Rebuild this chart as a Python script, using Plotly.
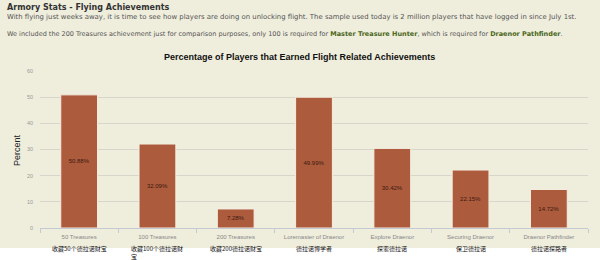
import plotly.graph_objects as go

categories = ["50 Treasures", "100 Treasures", "200 Treasures", "Loremaster of Draenor",
              "Explore Draenor", "Securing Draenor", "Draenor Pathfinder"]
categories_cn = ["收藏50个德拉诺财宝", "收藏100个德拉诺财<br>宝", "收藏200德拉诺财宝", "德拉诺博学者",
                 "探索德拉诺", "保卫德拉诺", "德拉诺探路者"]
percent = [50.88, 32.09, 7.28, 49.99, 30.42, 22.15, 14.72]
y_ticks = [0, 10, 20, 30, 40, 50, 60]

BG = "#EFEDDC"
BAR = "#AD5B3D"
W, H = 600, 260
L, R, T, B = 40, 12, 71, 32
PW, PH = W - L - R, H - T - B

def px_x(p):
    return (p - L) / PW

def px_y(p):
    return (H - B - p) / PH

fig = go.Figure()
fig.add_trace(go.Bar(
    x=categories, y=percent,
    marker=dict(color=BAR, line=dict(color="#F4EEE2", width=1)),
    width=0.47,
    text=[f"{v:.2f}%" for v in percent],
    textposition="inside", insidetextanchor="middle",
    textfont=dict(family="Liberation Sans", size=6, color="#3a1a10"),
    hoverinfo="skip",
))

annotations = []
for c, cn in zip(categories, categories_cn):
    wrapped = "<br>" in cn
    annotations.append(dict(
        x=c, xref="x", y=px_y(241.5) if wrapped else px_y(248.5), yref="paper", text=cn, showarrow=False,
        xanchor="center", yanchor="top" if wrapped else "middle",
        align="left",
        font=dict(family="Noto Sans CJK SC", size=6, color="#111"),
    ))

annotations += [
    dict(x=px_x(5), y=px_y(7), xref="paper", yref="paper", xanchor="left", yanchor="middle",
         text="<b>Armory Stats - Flying Achievements</b>", showarrow=False,
         font=dict(family="DejaVu Sans", size=8, color="#333")),
    dict(x=px_x(5), y=px_y(17), xref="paper", yref="paper", xanchor="left", yanchor="middle",
         text="With flying just weeks away, it is time to see how players are doing on unlocking flight. "
              "The sample used today is 2 million players that have logged in since July 1st.",
         showarrow=False, font=dict(family="DejaVu Sans", size=6.9, color="#555")),
    dict(x=px_x(5), y=px_y(34), xref="paper", yref="paper", xanchor="left", yanchor="middle",
         text="We included the 200 Treasures achievement just for comparison purposes, only 100 is required for "
              "<b><span style='color:#4A6620'>Master Treasure Hunter</span></b>, which is required for "
              "<b><span style='color:#4A6620'>Draenor Pathfinder</span></b>.",
         showarrow=False, font=dict(family="DejaVu Sans", size=6.5, color="#555")),
    dict(x=px_x(299), y=px_y(57), xref="paper", yref="paper", xanchor="center", yanchor="middle",
         text="<b>Percentage of Players that Earned Flight Related Achievements</b>", showarrow=False,
         font=dict(family="Liberation Sans", size=9, color="#111")),
    dict(x=px_x(17), y=px_y(150), xref="paper", yref="paper", xanchor="center", yanchor="middle",
         text="Percent", textangle=-90, showarrow=False,
         font=dict(family="Liberation Sans", size=9, color="#222")),
]

fig.update_layout(
    width=W, height=H,
    margin=dict(l=L, r=R, t=T, b=B, autoexpand=False),
    paper_bgcolor=BG, plot_bgcolor=BG,
    showlegend=False,
    bargap=0.53,
    annotations=annotations,
    shapes=[dict(type="rect", xref="paper", yref="paper", x0=px_x(-5), x1=px_x(605),
                 y0=px_y(248), y1=px_y(265), fillcolor="white", line=dict(width=0), layer="below")],
    xaxis=dict(
        type="category", tickson="boundaries", ticks="outside", ticklen=4, tickcolor="#C5CAD2",
        showline=True, linecolor="#C5CAD2", linewidth=1, showgrid=False,
        ticklabelstandoff=3,
        tickfont=dict(family="Liberation Sans", size=6, color="#888"),
        fixedrange=True,
    ),
    yaxis=dict(
        range=[0, 60], tickvals=y_ticks, showgrid=True, gridcolor="#D8D6CB", gridwidth=1,
        zeroline=False, showline=False, ticks="", ticklabelstandoff=6,
        tickfont=dict(family="Liberation Sans", size=5.5, color="#999"),
        fixedrange=True,
    ),
)

fig.write_html("out.html", config={"displayModeBar": False})
